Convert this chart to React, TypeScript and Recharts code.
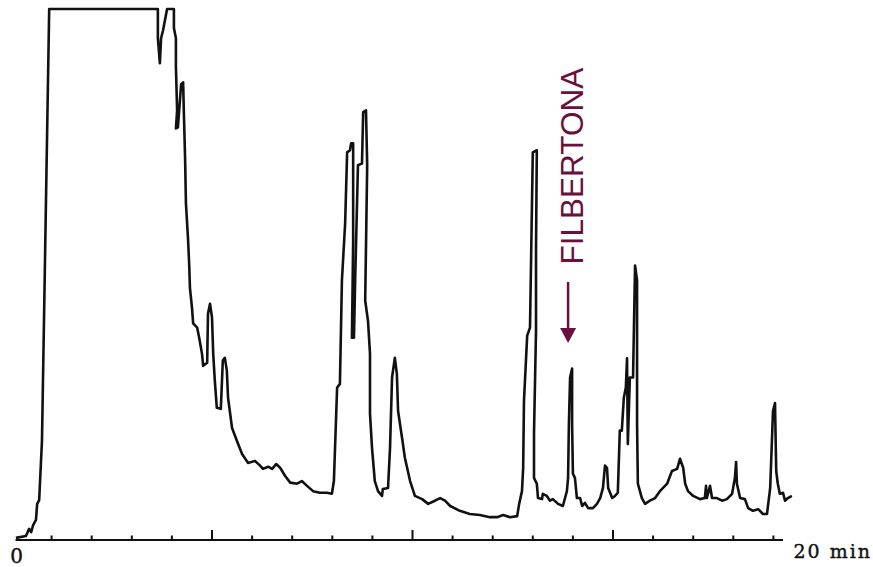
import { LineChart, Line, XAxis, YAxis, ReferenceLine, ReferenceDot } from "recharts";

// retention time (min) and detector response (% of full scale)
const retentionTime = [
  0.11, 0.36, 0.44, 0.49, 0.54, 0.61, 0.64, 0.69, 0.76, 0.94,
  3.65, 3.65, 3.70, 3.73, 3.78, 3.88, 4.05, 4.05, 4.10, 4.10, 4.13, 4.10, 4.15, 4.23, 4.28, 4.30, 4.33,
  4.35, 4.40, 4.43, 4.45, 4.50, 4.53, 4.63, 4.68, 4.75, 4.78, 4.88, 4.90, 4.95, 5.00, 5.03, 5.07, 5.12,
  5.22, 5.27, 5.32, 5.37, 5.40, 5.50, 5.62, 5.75, 5.90, 6.07, 6.20, 6.27, 6.40, 6.50, 6.60, 6.70, 6.82,
  6.95, 7.12, 7.24, 7.37, 7.52, 7.69, 7.87, 7.99, 8.04, 8.12, 8.19, 8.24, 8.32, 8.37, 8.44, 8.47, 8.52,
  8.52, 8.49, 8.54, 8.57, 8.64, 8.74, 8.77, 8.84, 8.87, 8.84, 8.82, 8.89, 8.94, 8.94, 8.99, 9.06, 9.14,
  9.24, 9.26, 9.39, 9.44, 9.49, 9.56, 9.61, 9.64, 9.74, 9.81, 9.94, 10.06, 10.24, 10.39, 10.56, 10.69,
  10.81, 10.94, 11.18, 11.43, 11.68, 11.93, 12.11, 12.26, 12.43, 12.61, 12.66, 12.73, 12.76, 12.78,
  12.86, 12.93, 13.0, 13.1, 13.08, 13.08, 13.03, 13.03, 13.1, 13.13, 13.23, 13.25, 13.35, 13.43, 13.5,
  13.63, 13.75, 13.85, 13.88, 13.9, 13.93, 13.98, 13.98, 14.0, 14.05, 14.1, 14.18, 14.23, 14.3, 14.38,
  14.5, 14.6, 14.68, 14.75, 14.8, 14.85, 14.88, 14.98, 15.05, 15.12, 15.17, 15.22, 15.27, 15.32, 15.35,
  15.37, 15.42, 15.5, 15.55, 15.6, 15.6, 15.62, 15.72, 15.8, 15.92, 16.05, 16.17, 16.35, 16.47, 16.6,
  16.67, 16.75, 16.8, 16.87, 17.0, 17.17, 17.29, 17.32, 17.34, 17.42, 17.47, 17.59, 17.72, 17.84, 17.97,
  18.04, 18.07, 18.09, 18.17, 18.29, 18.37, 18.49, 18.62, 18.74, 18.84, 18.92, 18.99, 19.04, 19.07,
  19.11, 19.16, 19.24, 19.29, 19.36, 19.46,
];

const detectorResponse = [
  0.4, 0.75, 2.1, 1.5, 2.8, 3.8, 6.8, 7.5, 18.7, 100,
  100, 94.5, 89.8, 94.5, 96.0, 100, 100, 96.4, 94.5, 89.1, 80.9, 77.5, 77.7, 85.8, 86.2, 80.0, 71.5,
  63.4, 57.0, 52.1, 47.5, 43.8, 40.8, 40.0, 38.1, 35.1, 32.8, 33.4, 42.6, 44.5, 41.9, 35.1, 30.0, 24.9,
  24.7, 33.8, 34.3, 31.9, 26.8, 21.1, 18.7, 16.2, 14.5, 14.9, 14.0, 13.4, 13.8, 13.4, 14.3, 13.6, 12.1,
  10.8, 10.6, 11.1, 10.2, 9.2, 8.9, 8.9, 8.7, 11.1, 28.7, 29.4, 48.9, 59.6, 73.0, 73.4, 74.7, 74.7,
  56.4, 38.1, 38.1, 48.9, 70.6, 70.9, 80.6, 80.9, 70.6, 55.1, 45.1, 41.3, 35.1, 23.8, 17.4, 11.1, 9.2,
  8.3, 9.6, 9.8, 17.4, 30.6, 34.3, 31.3, 24.3, 19.2, 15.5, 11.1, 8.3, 7.7, 6.8, 7.4, 7.9,
  7.4, 6.4, 5.5, 4.9, 4.7, 4.3, 4.3, 4.7, 4.3, 4.5, 6.8, 9.2, 13.6, 26.2,
  38.5, 40.0, 73.0, 73.4, 54.5, 39.4, 20.0, 11.7, 10.6, 7.9, 7.7, 8.7, 8.3, 7.4, 7.7,
  6.8, 6.4, 9.2, 11.7, 21.9, 30.6, 32.3, 21.9, 12.5, 11.7, 7.9, 7.9, 6.4, 7.0, 6.0,
  6.0, 6.8, 7.9, 9.8, 14.0, 13.6, 9.8, 7.9, 8.3, 8.9, 20.6, 20.6, 26.8, 28.7, 34.2,
  18.1, 30.6, 30.6, 51.7, 48.9, 21.9, 10.6, 7.9, 6.8, 7.4, 7.9, 9.2, 10.6, 13.0, 13.4,
  15.3, 13.6, 10.6, 9.2, 8.3, 7.7, 7.9, 10.2, 7.9, 10.2, 7.9, 7.9, 7.4, 7.7, 8.7,
  11.7, 14.7, 10.6, 7.9, 7.7, 6.0, 5.5, 5.8, 4.9, 4.9, 9.8, 24.3, 25.8, 13.0,
  10.6, 8.7, 8.9, 7.4, 7.9, 8.3,
];

const minuteTicks = [0, 1, 2, 3, 4, 5, 6, 7, 8, 9, 10, 11, 12, 13, 14, 15, 16, 17, 18, 19, 20];
const majorTicks = [5, 10, 15];
const axisEnd = 19.24;

// filbertona annotation
const filbertonaLabel = "FILBERTONA";
const arrowTime = 13.88;
const arrowTop = 48.6;
const arrowBase = 39.7;
const arrowTip = 37.1;
const labelTime = 14.25;
const labelCenter = 70.4;

const data = retentionTime.map((t, i) => ({ t, v: detectorResponse[i] }));

const INK = "#111";
const MAROON = "#6b0f3c";

const TimeTick = (props: any) => {
  const { x, y, payload } = props;
  const m = payload.value;
  if (m === 0) {
    return (
      <text x={x + 5} y={y + 23} textAnchor="middle" fontFamily="DejaVu Serif" fontSize={20}
        fill={INK} stroke={INK} strokeWidth={0.4}>
        0
      </text>
    );
  }
  if (m === 20) {
    return (
      <text x={x - 20} y={y + 18} textAnchor="start" fontFamily="DejaVu Serif" fontSize={19}
        letterSpacing={2} fill={INK} stroke={INK} strokeWidth={0.4}>
        20 min
      </text>
    );
  }
  const h = majorTicks.includes(m) ? 10 : 4.5;
  return <line x1={x} x2={x} y1={y} y2={y - h} stroke={INK} strokeWidth={2} />;
};

export default function App() {
  return (
    <div style={{ position: "absolute", left: 0, top: 0, background: "#fff" }}>
      <LineChart width={873} height={567} data={data} margin={{ top: 9, right: 59.5, bottom: 0, left: 11.5 }}>
        <XAxis
          type="number"
          dataKey="t"
          domain={[0, 20]}
          ticks={minuteTicks}
          interval={0}
          axisLine={false}
          tickLine={false}
          tickSize={0}
          tickMargin={0}
          height={27}
          tick={TimeTick}
        />
        <YAxis hide type="number" domain={[0, 100]} />
        <ReferenceLine
          segment={[{ x: 0.1, y: 0 }, { x: axisEnd, y: 0 }]}
          stroke={INK}
          strokeWidth={2}
        />
        <Line
          type="linear"
          dataKey="v"
          stroke={INK}
          strokeWidth={2.6}
          strokeLinejoin="round"
          dot={false}
          isAnimationActive={false}
        />
        <ReferenceLine
          segment={[{ x: arrowTime, y: arrowTop }, { x: arrowTime, y: arrowBase }]}
          stroke={MAROON}
          strokeWidth={2.5}
        />
        <ReferenceDot
          x={arrowTime}
          y={arrowTip}
          shape={(p: any) => (
            <polygon
              points={`${p.cx - 8},${p.cy - 15} ${p.cx + 8},${p.cy - 15} ${p.cx},${p.cy}`}
              fill={MAROON}
            />
          )}
        />
        <ReferenceDot
          x={labelTime}
          y={labelCenter}
          shape={(p: any) => (
            <text
              transform={`translate(${p.cx}, ${p.cy}) rotate(-90)`}
              textAnchor="middle"
              fontFamily="Liberation Sans, Arial, sans-serif"
              fontSize={31.5}
              fill={MAROON}
            >
              {filbertonaLabel}
            </text>
          )}
        />
      </LineChart>
    </div>
  );
}
